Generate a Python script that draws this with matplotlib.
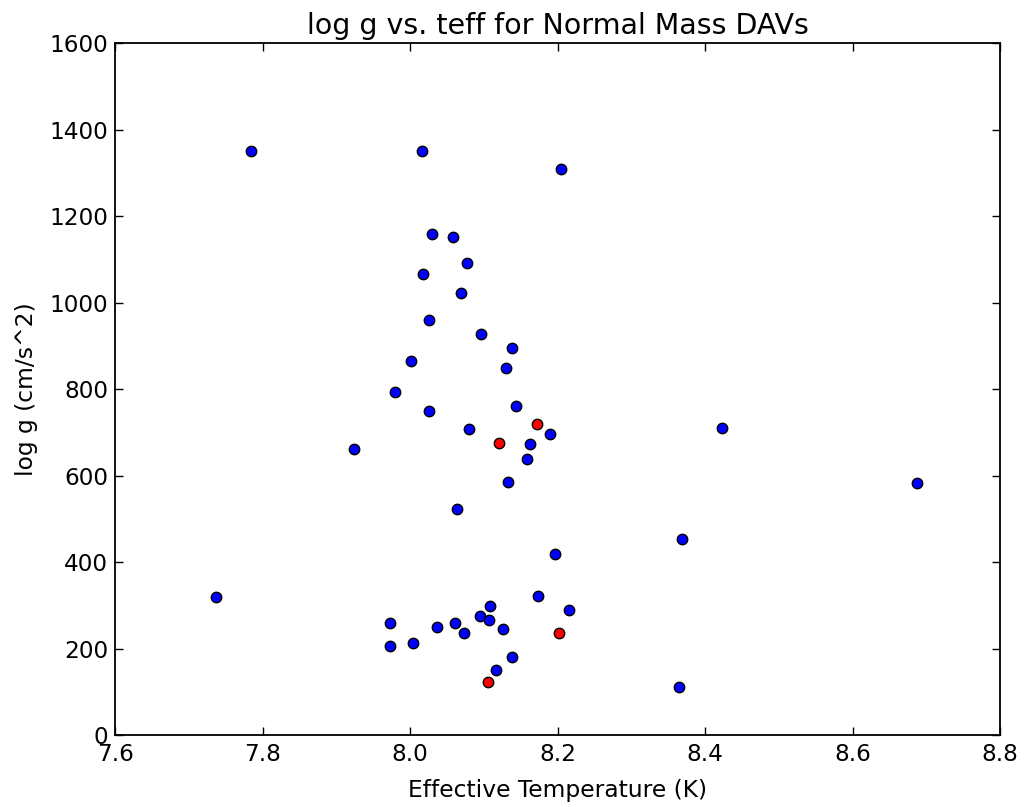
import numpy as np
import matplotlib.pyplot as plt

# blue points (normal mass DAVs)
teff_blue = [7.784, 8.016, 8.030, 8.058, 8.077, 8.018, 8.069, 8.026, 8.096, 8.138,
             8.001, 8.130, 7.979, 8.026, 8.143, 8.204, 8.080, 7.924, 8.133, 8.063,
             7.737, 8.108, 7.973, 8.095, 8.107, 8.036, 8.061, 8.073, 8.126, 7.973,
             8.004, 8.138, 8.116, 8.189, 8.162, 8.158, 8.423, 8.688, 8.369, 8.197,
             8.174, 8.216, 8.365]
logg_blue = [1350, 1350, 1159, 1153, 1093, 1066, 1023, 960, 927, 896,
             866, 850, 793, 750, 760, 1309, 709, 662, 586, 523,
             319, 299, 260, 276, 266, 249, 260, 237, 246, 206,
             212, 180, 150, 696, 673, 639, 710, 583, 453, 419,
             322, 289, 110]

# red points
teff_red = [8.121, 8.106, 8.172, 8.202]
logg_red = [676, 123, 719, 236]

fig = plt.figure(figsize=(10.32, 8.07), dpi=100)
ax = fig.add_axes([0.1117, 0.0892, 0.8573, 0.8571])

ax.plot(teff_blue, logg_blue, 'o', color='blue', markersize=7.5,
        markeredgecolor='black', markeredgewidth=1.0)
ax.plot(teff_red, logg_red, 'o', color='red', markersize=7.5,
        markeredgecolor='black', markeredgewidth=1.0)

ax.set_xlim(7.6, 8.8)
ax.set_ylim(0, 1600)
ax.set_xticks(np.arange(7.6, 8.81, 0.2))
ax.set_yticks(np.arange(0, 1601, 200))
ax.xaxis.set_major_formatter(plt.FormatStrFormatter('%.1f'))

ax.tick_params(direction='in', top=True, right=True, length=5.5, width=1,
               labelsize=16.7)
ax.tick_params(axis='x', pad=6)
ax.tick_params(axis='y', pad=5)
for s in ax.spines.values():
    s.set_linewidth(1.3)

ax.set_title("log g vs. teff for Normal Mass DAVs", fontsize=20.5, pad=7)
ax.set_xlabel("Effective Temperature (K)", fontsize=16.8, labelpad=9)
ax.set_ylabel("log g (cm/s^2)", fontsize=16.8, labelpad=8)

fig.savefig("out.png", dpi=100)
